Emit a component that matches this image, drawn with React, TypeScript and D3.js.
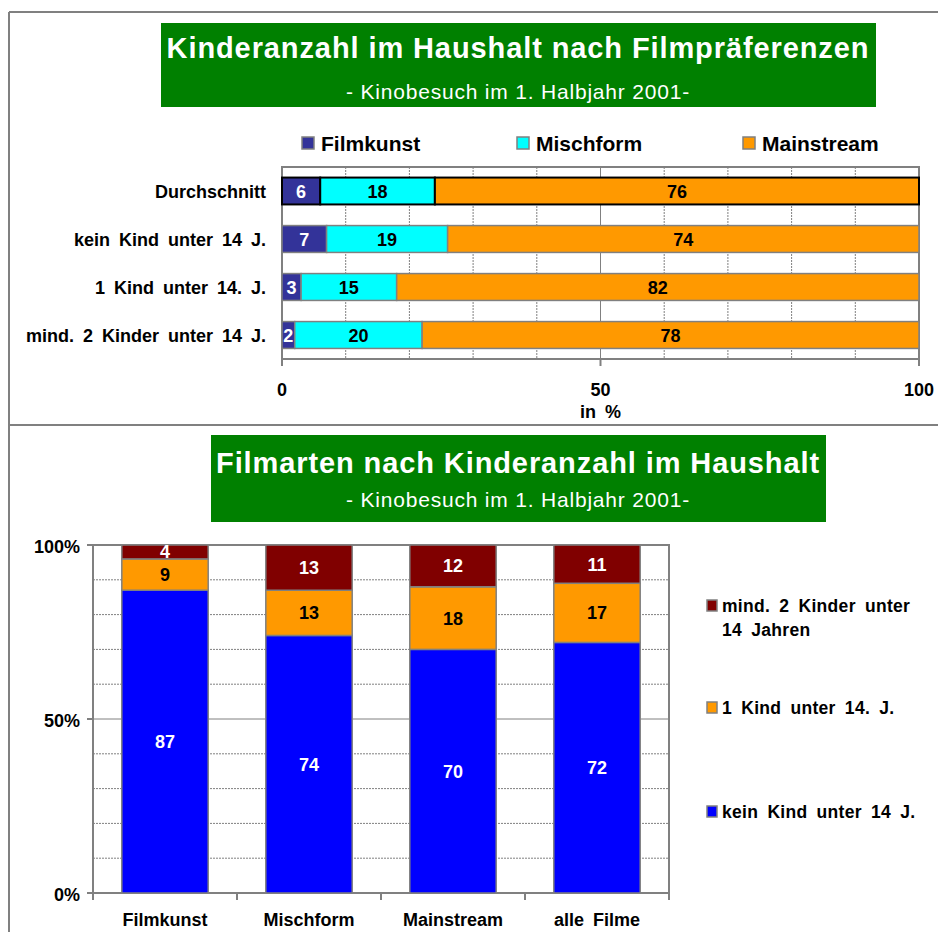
import React from "react";
import * as d3 from "d3";

const topCategories = ["Durchschnitt", "kein Kind unter 14 J.", "1 Kind unter 14. J.", "mind. 2 Kinder unter 14 J."];
const topSeries = ["Filmkunst", "Mischform", "Mainstream"];
const filmkunstValues = [6, 7, 3, 2];
const mischformValues = [18, 19, 15, 20];
const mainstreamValues = [76, 74, 82, 78];
const topTicks = [0, 50, 100];
const topGrid = [10, 20, 30, 40, 50, 60, 70, 80, 90];

const bottomCategories = ["Filmkunst", "Mischform", "Mainstream", "alle Filme"];
const bottomSeries = ["kein Kind unter 14 J.", "1 Kind unter 14. J.", "mind. 2 Kinder unter 14 Jahren"];
const keinKindValues = [87, 74, 70, 72];
const einKindValues = [9, 13, 18, 17];
const mind2Values = [4, 13, 12, 11];
const bottomTicks = [0, 50, 100];
const bottomGrid = [10, 20, 30, 40, 50, 60, 70, 80, 90];

const FONT = "'Liberation Sans', Arial, sans-serif";
const GREEN = "#008000";
const GRAY = "#808080";
const topColors = ["#333399", "#00FFFF", "#FF9900"];
const topTextColors = ["#FFFFFF", "#000000", "#000000"];
const bottomColors = ["#0000FF", "#FF9900", "#800000"];
const bottomTextColors = ["#FFFFFF", "#000000", "#FFFFFF"];

export default function App() {
  // ---------- top chart ----------
  const topRows = topCategories.map((c, i) => ({
    cat: c,
    Filmkunst: filmkunstValues[i],
    Mischform: mischformValues[i],
    Mainstream: mainstreamValues[i],
  }));
  const topStack = d3.stack<any>().keys(topSeries)(topRows);
  const tx = d3.scaleLinear().domain([0, 100]).range([282, 919]);
  const ty = d3.scaleBand<string>().domain(topCategories).range([167, 359]).paddingInner(0.44).paddingOuter(0.22);

  // ---------- bottom chart ----------
  const botRows = bottomCategories.map((c, i) => ({
    cat: c,
    [bottomSeries[0]]: keinKindValues[i],
    [bottomSeries[1]]: einKindValues[i],
    [bottomSeries[2]]: mind2Values[i],
  }));
  const botStack = d3.stack<any>().keys(bottomSeries)(botRows);
  const bx = d3.scaleBand<string>().domain(bottomCategories).range([93, 669]).paddingInner(0.4).paddingOuter(0.2);
  const by = d3.scaleLinear().domain([0, 100]).range([893, 545]);
  const bxEdges = [0, 1, 2, 3, 4].map((i) => 93 + bx.step() * i);

  const lbl = { fontWeight: "bold" as const, fontSize: 18, wordSpacing: 4 };
  const legB = { fontWeight: "bold" as const, fontSize: 17.5, letterSpacing: 0.3, wordSpacing: 4 };

  return (
    <svg width={938} height={932} style={{ display: "block", position: "absolute", left: 0, top: 0 }} fontFamily={FONT}>
      <rect x={0} y={0} width={938} height={932} fill="#fff" />
      {/* outer frames */}
      <line x1={9} x2={938} y1={12} y2={12} stroke={GRAY} strokeWidth={2} />
      <line x1={9} x2={9} y1={12} y2={932} stroke={GRAY} strokeWidth={2} />
      <line x1={9} x2={938} y1={425} y2={425} stroke={GRAY} strokeWidth={2} />

      {/* ===== TOP CHART ===== */}
      <rect x={161} y={23} width={715} height={84} fill={GREEN} />
      <text x={518} y={58} textAnchor="middle" fill="#fff" fontWeight="bold" fontSize={29} letterSpacing={0.9}>
        Kinderanzahl im Haushalt nach Filmpräferenzen
      </text>
      <text x={518} y={99} textAnchor="middle" fill="#fff" fontSize={21} letterSpacing={0.8}>
        - Kinobesuch im 1. Halbjahr 2001-
      </text>

      {/* legend */}
      {topSeries.map((s, i) => {
        const lx = [302, 517, 743][i];
        return (
          <g key={s}>
            <rect x={lx} y={137} width={12} height={12} fill={topColors[i]} stroke={GRAY} strokeWidth={1.5} />
            <text x={lx + 19} y={151} fontWeight="bold" fontSize={21} fill="#000">
              {s}
            </text>
          </g>
        );
      })}

      {/* plot area */}
      <rect x={282} y={167} width={637} height={192} fill="#fff" stroke={GRAY} strokeWidth={2} />
      {topGrid.map((g) => (
        <line
          key={g}
          x1={tx(g)}
          x2={tx(g)}
          y1={167}
          y2={359}
          stroke={GRAY}
          strokeWidth={1}
          strokeDasharray={g === 50 ? undefined : "2,1"}
        />
      ))}
      {topTicks.map((t) => (
        <g key={t}>
          <line x1={tx(t)} x2={tx(t)} y1={359} y2={366} stroke={GRAY} strokeWidth={2} />
          <text x={tx(t)} y={396} textAnchor="middle" {...lbl}>
            {t}
          </text>
        </g>
      ))}
      <text x={tx(50)} y={418} textAnchor="middle" {...lbl}>
        in %
      </text>

      {topStack.map((layer, si) =>
        layer.map((d, ci) => {
          const cat = topCategories[ci];
          const y0 = ty(cat)!;
          const x0 = tx(d[0]);
          const x1 = tx(d[1]);
          const isAvg = ci === 0;
          return (
            <g key={si + "-" + ci}>
              <rect
                x={x0}
                y={y0}
                width={x1 - x0}
                height={ty.bandwidth()}
                fill={topColors[si]}
                stroke={isAvg ? "#000" : GRAY}
                strokeWidth={isAvg ? 2 : 1.5}
              />
              <text
                x={(x0 + x1) / 2}
                y={y0 + ty.bandwidth() / 2 + 6.5}
                textAnchor="middle"
                {...lbl}
                fill={topTextColors[si]}
              >
                {d[1] - d[0]}
              </text>
            </g>
          );
        })
      )}
      {topCategories.map((c) => (
        <text key={c} x={266} y={ty(c)! + ty.bandwidth() / 2 + 6.5} textAnchor="end" {...lbl}>
          {c}
        </text>
      ))}

      {/* ===== BOTTOM CHART ===== */}
      <rect x={211} y={435} width={615} height={87} fill={GREEN} />
      <text x={518} y={473} textAnchor="middle" fill="#fff" fontWeight="bold" fontSize={29} letterSpacing={0.9}>
        Filmarten nach Kinderanzahl im Haushalt
      </text>
      <text x={518} y={507} textAnchor="middle" fill="#fff" fontSize={21} letterSpacing={0.8}>
        - Kinobesuch im 1. Halbjahr 2001-
      </text>

      <rect x={93} y={545} width={576} height={348} fill="#fff" stroke={GRAY} strokeWidth={2} />
      {bottomGrid.map((g) => (
        <line
          key={g}
          x1={93}
          x2={669}
          y1={by(g)}
          y2={by(g)}
          stroke={GRAY}
          strokeWidth={1}
          strokeDasharray={g === 50 ? undefined : "2,1"}
        />
      ))}
      {bottomTicks.map((t) => (
        <g key={t}>
          <line x1={87} x2={93} y1={by(t)} y2={by(t)} stroke={GRAY} strokeWidth={2} />
          <text x={80} y={by(t) + 8} textAnchor="end" {...lbl}>
            {t + "%"}
          </text>
        </g>
      ))}
      {bxEdges.map((x, i) => (
        <line key={i} x1={x} x2={x} y1={893} y2={900} stroke={GRAY} strokeWidth={2} />
      ))}

      {botStack.map((layer, si) =>
        layer.map((d, ci) => {
          const cat = bottomCategories[ci];
          const x0 = bx(cat)!;
          const ya = by(d[1]);
          const yb = by(d[0]);
          return (
            <g key={si + "-" + ci}>
              <rect
                x={x0}
                y={ya}
                width={bx.bandwidth()}
                height={yb - ya}
                fill={bottomColors[si]}
                stroke={GRAY}
                strokeWidth={1.5}
              />
              <text
                x={x0 + bx.bandwidth() / 2}
                y={(ya + yb) / 2 + 6.5}
                textAnchor="middle"
                {...lbl}
                fill={bottomTextColors[si]}
              >
                {d[1] - d[0]}
              </text>
            </g>
          );
        })
      )}
      {bottomCategories.map((c) => (
        <text key={c} x={bx(c)! + bx.bandwidth() / 2} y={926} textAnchor="middle" {...lbl}>
          {c}
        </text>
      ))}

      {/* bottom legend */}
      <rect x={707} y={600} width={10} height={11} fill={bottomColors[2]} stroke={GRAY} strokeWidth={1.5} />
      <text x={722} y={612} {...legB}>
        mind. 2 Kinder unter
      </text>
      <text x={722} y={636} {...legB}>
        14 Jahren
      </text>
      <rect x={707} y={702} width={10} height={11} fill={bottomColors[1]} stroke={GRAY} strokeWidth={1.5} />
      <text x={722} y={714} {...legB}>
        {bottomSeries[1]}
      </text>
      <rect x={707} y={806} width={10} height={11} fill={bottomColors[0]} stroke={GRAY} strokeWidth={1.5} />
      <text x={722} y={818} {...legB}>
        {bottomSeries[0]}
      </text>
    </svg>
  );
}
